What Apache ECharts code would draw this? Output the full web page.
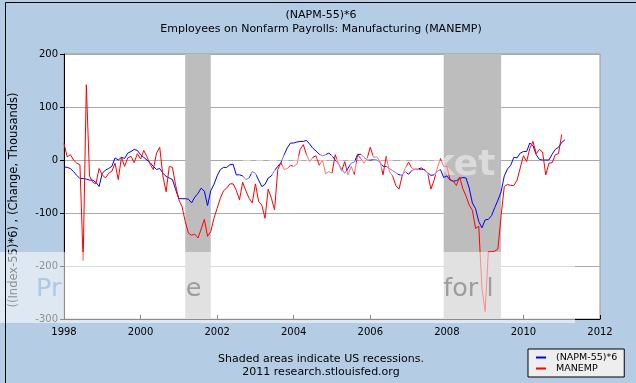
<!DOCTYPE html>
<html><head><meta charset="utf-8">
<script src="https://cdn.jsdelivr.net/npm/echarts@6/dist/echarts.min.js"></script>
<style>html,body{margin:0;padding:0;background:#fff}#c{width:636px;height:383px}</style>
</head><body><div id="c"></div>
<script>
const startYear = 1998; // first month: January 1998, monthly data
const napmSeries = [
  -13, -14, -16, -22, -29, -35, -35, -36, -38, -38, -42, -50,
  -25, -19, -16, -12, 4, 0, 5, 3, 13, 16, 20, 18,
  10, 5, 0, -5, -12, -18, -16, -25, -31, -34, -37, -56,
  -73, -73, -73, -74, -81, -70, -63, -53, -59, -86, -58, -46,
  -30, -18, -14, -14, -9, -8, -28, -28, -30, -37, -34, -22,
  -25, -38, -50, -46, -34, -30, -20, -12, -5, 10, 23, 32,
  32, 34, 35, 35, 37, 30, 22, 17, 11, 8, 10, 13,
  8, 0, -7, -17, -25, -16, -6, -4, 10, 11, 5, 0,
  0, 1, 0, -4, -12, -12, -16, -20, -24, -28, -28, -22,
  -27, -20, -17, -17, -15, -19, -24, -29, -28, -21, -18, -33,
  -30, -38, -40, -39, -35, -33, -34, -53, -81, -92, -116, -128,
  -113, -112, -105, -90, -76, -60, -30, -17, -10, 5, 4, 13,
  16, 16, 32, 27, 10, 1, 0, 0, 0, 11, 20, 24,
  33, 38
];
const manempSeries = [
  31, 6, 10, 0, -6, -9, -190, 142, -30, -42, -45, -16,
  -28, -34, -25, -21, -6, -37, 5, -12, 4, 7, -5, 12,
  2, 18, 6, -8, -18, 13, 24, -30, -60, -12, -14, -48,
  -75, -88, -116, -138, -142, -140, -147, -130, -112, -144, -135, -110,
  -91, -72, -58, -53, -45, -45, -57, -75, -42, -58, -72, -81,
  -45, -78, -85, -110, -55, -72, -94, -18, -5, -18, -16, -10,
  -12, -8, 20, 29, 10, -3, 5, 8, -10, 0, -26, -22,
  -25, 10, -6, -21, -3, -28, -12, -27, 10, 3, -6, 3,
  24, 5, 6, -2, -28, 7, -22, -30, -48, -55, -30, -15,
  -4, -15, -18, -18, -18, -18, -25, -55, -38, -15, 3, -12,
  -12, -37, -40, -48, -32, -54, -68, -85, -95, -129, -125, -242,
  -286, -173, -173, -172, -168, -105, -50, -46, -48, -48, -38, -15,
  8, -3, 22, 35, 12, 20, 15, -28, -6, -5, 10, 12,
  48
];
const seriesNames = ['(NAPM-55)*6', 'MANEMP'];
const xTickYears = [1998, 2000, 2002, 2004, 2006, 2008, 2010, 2012];
const yTicks = [-300, -200, -100, 0, 100, 200];
// recessions as [start year, start month(1-12), end year, end month]
const recessions = [[2001, 3, 2001, 11], [2007, 12, 2009, 6]];

const toPoints = arr => arr.map((v, i) => [startYear + i / 12, v]);
const ym = (y, m) => y + (m - 1) / 12;

const FONT = 'DejaVu Sans';
const WM = 25.5;
const chart = echarts.init(document.getElementById('c'), null, {renderer: 'canvas'});
chart.setOption({
  backgroundColor: '#b4cde4',
  animation: false,
  title: [
    {text: '(NAPM-55)*6\nEmployees on Nonfarm Payrolls: Manufacturing (MANEMP)',
     left: 321, top: 8, textAlign: 'center', padding: 0,
     textStyle: {fontFamily: FONT, fontSize: 11, fontWeight: 'normal', color: '#000', lineHeight: 14}},
    {text: 'Shaded areas indicate US recessions.\n2011 research.stlouisfed.org',
     left: 321, top: 353, textAlign: 'center', padding: 0,
     textStyle: {fontFamily: FONT, fontSize: 11, fontWeight: 'normal', color: '#000', lineHeight: 12.5}}
  ],
  legend: {
    orient: 'vertical', left: 528, top: 349,
    padding: [3, 7, 3, 8], itemGap: 0,
    itemWidth: 10, itemHeight: 2, icon: 'rect',
    backgroundColor: '#eeeeee', borderColor: '#000', borderWidth: 1, borderRadius: 0,
    textStyle: {fontFamily: FONT, fontSize: 9.5, color: '#000', padding: [0, 0, 0, 5], lineHeight: 11},
    data: seriesNames
  },
  grid: {left: 62, right: 36, top: 54, bottom: 64, show: true,
         backgroundColor: '#fff', borderColor: '#999', borderWidth: 1},
  xAxis: {
    type: 'value', min: xTickYears[0], max: xTickYears[xTickYears.length - 1], interval: 2,
    axisLine: {show: true, onZero: false, lineStyle: {color: '#000', width: 1}},
    axisTick: {show: true, inside: true, length: 4, lineStyle: {color: '#000'}},
    splitLine: {show: false},
    axisLabel: {fontFamily: FONT, fontSize: 10, color: '#000', margin: 8, formatter: v => String(v)}
  },
  yAxis: {
    type: 'value', min: yTicks[0], max: yTicks[yTicks.length - 1], interval: 100,
    name: '((Index-55)*6) , (Change, Thousands)', nameLocation: 'middle', nameRotate: 90, nameGap: 44,
    nameTextStyle: {fontFamily: FONT, fontSize: 11.5, color: '#000', padding: [0, 27, 0, 0]},
    axisLine: {show: true, onZero: false, lineStyle: {color: '#000', width: 1}},
    axisTick: {show: true, length: 4, lineStyle: {color: '#000'}},
    splitLine: {show: true, lineStyle: {color: '#aaa', width: 1}},
    axisLabel: {fontFamily: FONT, fontSize: 10, color: '#000', margin: 6}
  },
  series: [
    {name: seriesNames[0], type: 'line', data: toPoints(napmSeries), showSymbol: false, symbol: 'none',
     lineStyle: {color: '#0000ff', width: 1}, itemStyle: {color: '#0000ff'}, z: 3,
     markArea: {silent: true, itemStyle: {color: '#bdbdbd'},
       data: recessions.map(r => [{xAxis: ym(r[0], r[1])}, {xAxis: ym(r[2], r[3])}])}},
    {name: seriesNames[1], type: 'line', data: toPoints(manempSeries), showSymbol: false, symbol: 'none',
     lineStyle: {color: '#ff0000', width: 1}, itemStyle: {color: '#ff0000'}, z: 4}
  ],
  graphic: [
    {type: 'text', left: 240, top: 148, z: 90, silent: true,
     style: {text: 'photobucket', fontFamily: FONT, fontWeight: 'bold', fontSize: 36, fill: 'rgba(255,255,255,0.45)'}},
    {type: 'rect', left: 0, top: 252, z: 100, silent: true,
     shape: {width: 575, height: 71}, style: {fill: 'rgba(255,255,255,0.55)'}},
    {type: 'text', left: 36, top: 276, z: 101, silent: true,
     style: {text: '{b|Pr}{n|otect mor}{g|e}{n| of your memories }{g|for l}{n|ess!}',
             fontFamily: FONT, fontSize: WM,
             rich: {
               b: {fill: 'rgba(168,196,222,0.9)', fontFamily: FONT, fontSize: WM},
               g: {fill: 'rgba(145,145,145,0.85)', fontFamily: FONT, fontSize: WM},
               n: {fill: 'rgba(255,255,255,0)', fontFamily: FONT, fontSize: WM}
             }}},
    {type: 'rect', left: 3, top: 0, z: 110, silent: true,
     shape: {width: 631, height: 382}, style: {fill: 'none', stroke: '#000', lineWidth: 1}}
  ]
});
</script></body></html>
